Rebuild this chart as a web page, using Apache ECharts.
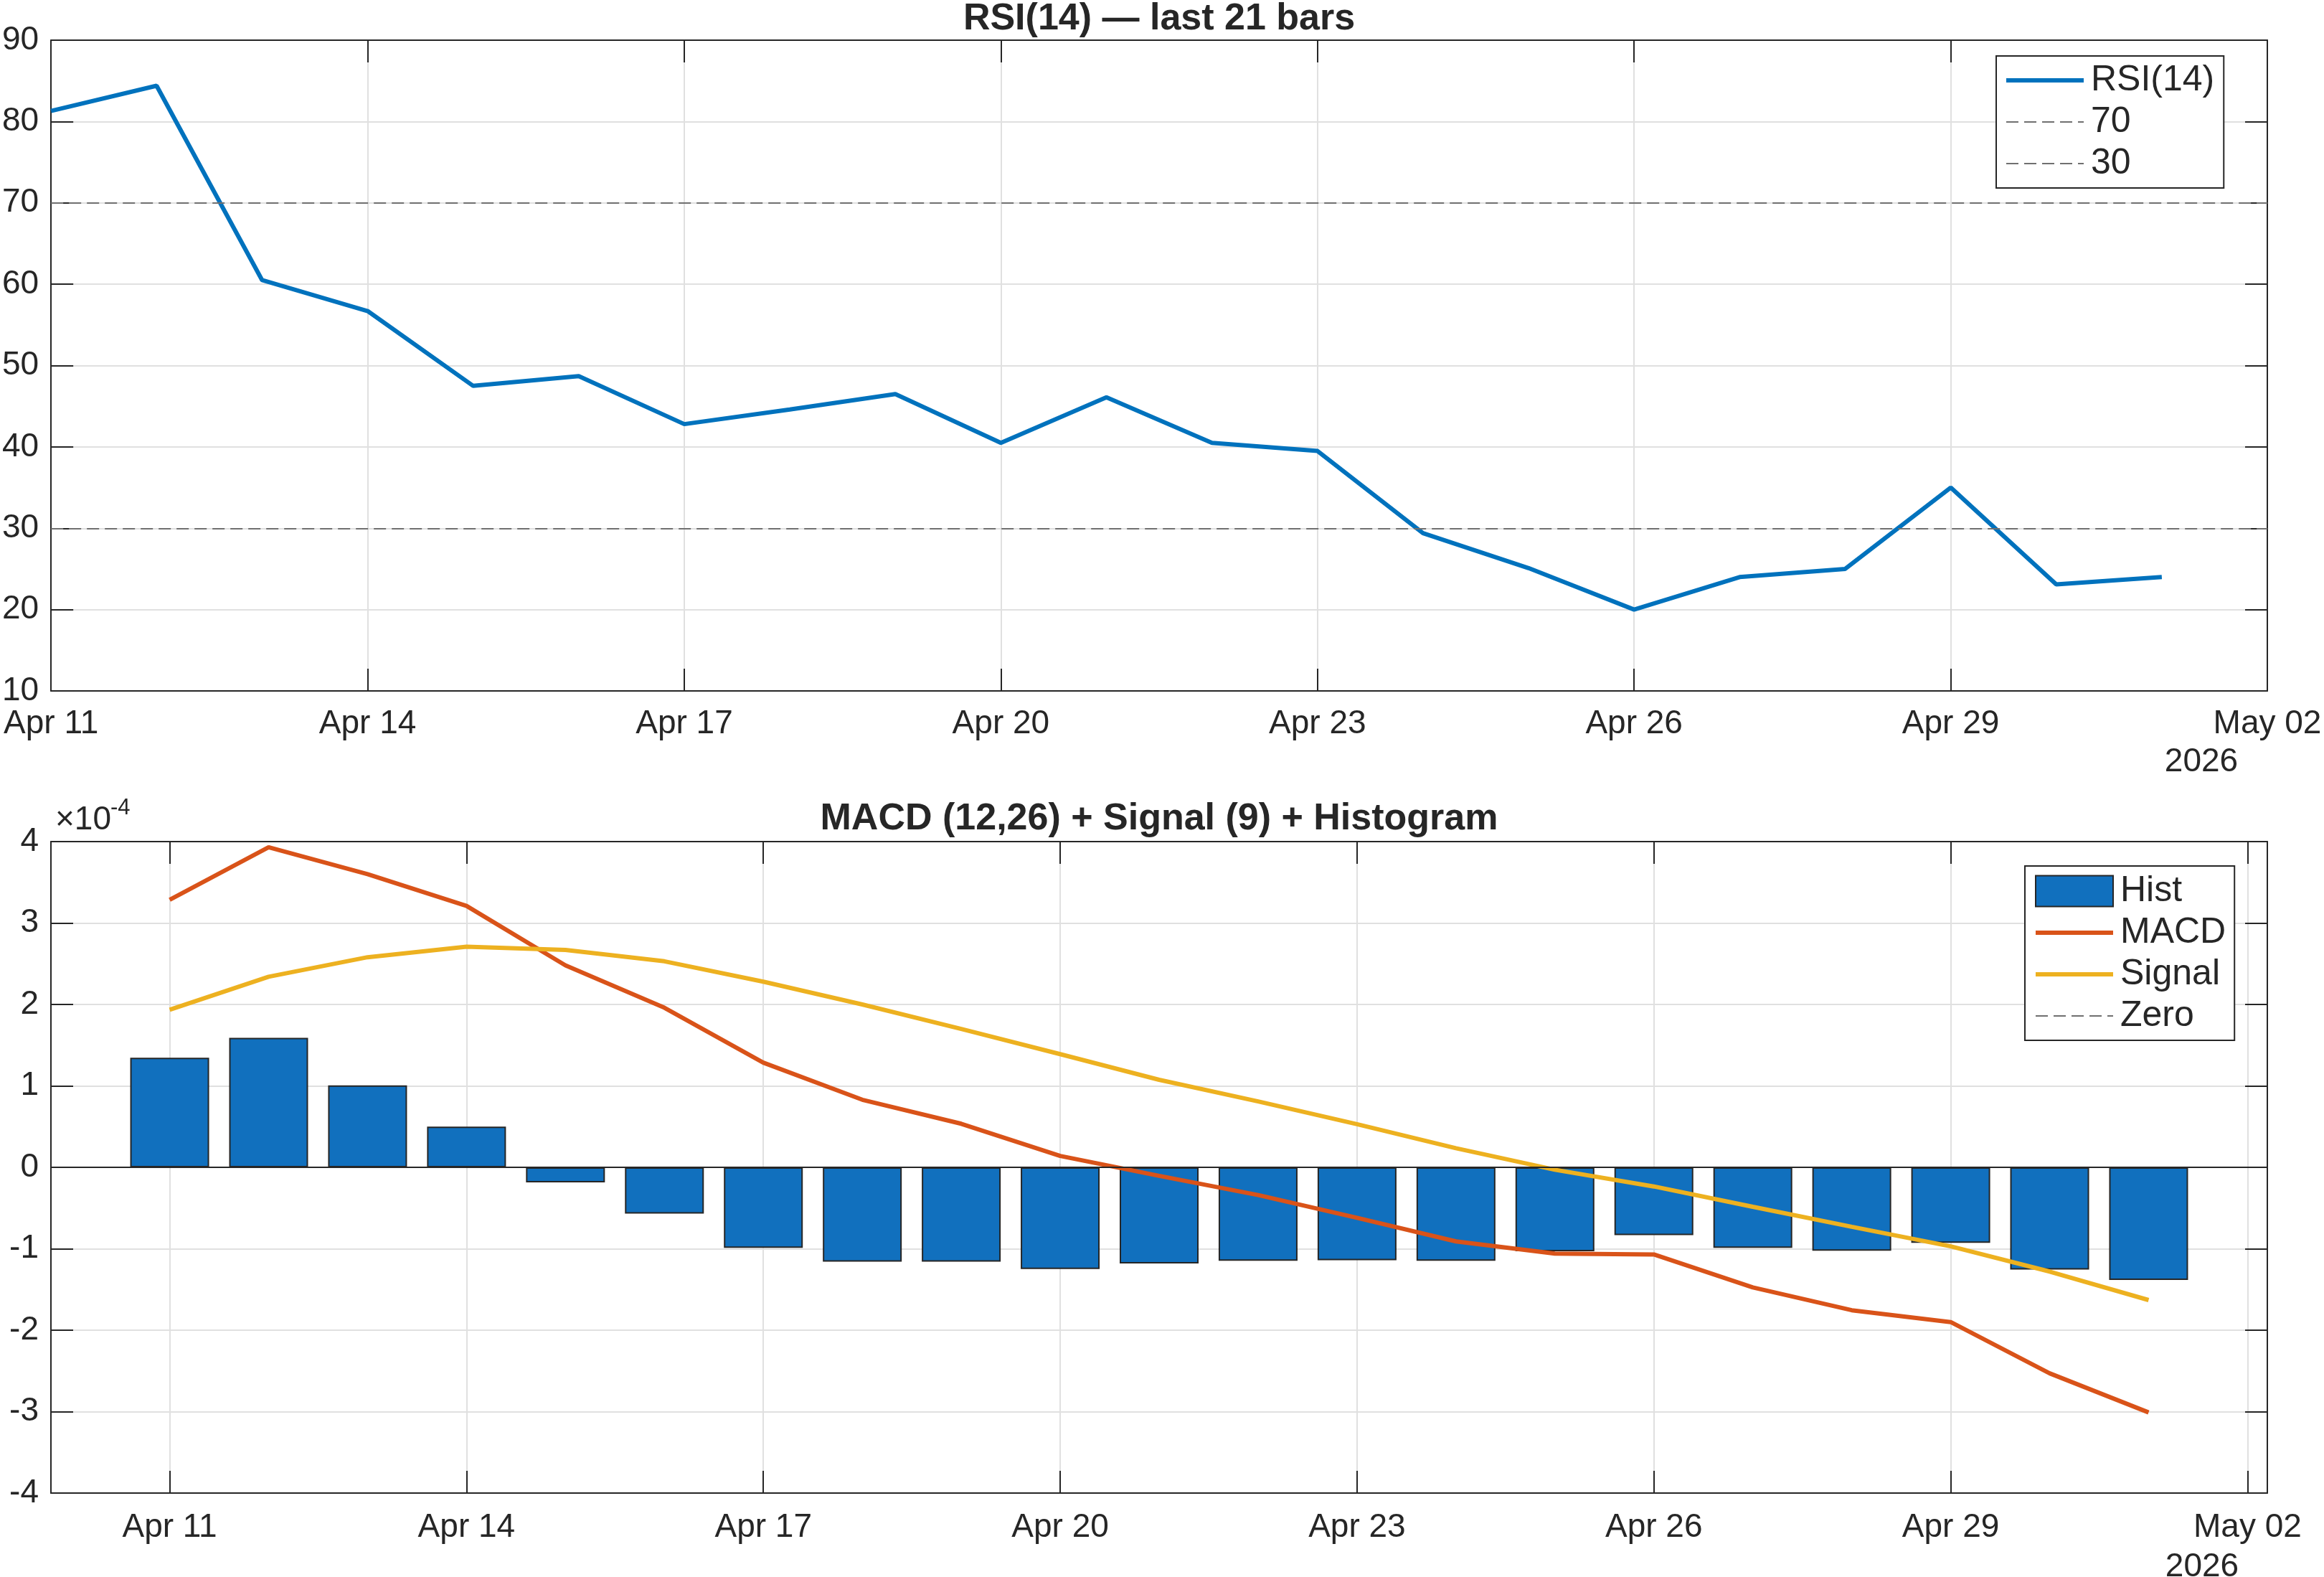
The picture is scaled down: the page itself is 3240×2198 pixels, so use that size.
<!DOCTYPE html>
<html>
<head>
<meta charset="utf-8">
<script src="https://cdn.jsdelivr.net/npm/echarts@6/dist/echarts.min.js"></script>
<style>
html, body { margin: 0; padding: 0; background: #fff; }
#main { width: 3240px; height: 2198px; }
</style>
</head>
<body>
<div id="main"></div>
<script>
// last 21 daily bars, Apr 11 .. May 01 2026
const dates = ['Apr 11', 'Apr 12', 'Apr 13', 'Apr 14', 'Apr 15', 'Apr 16', 'Apr 17',
	'Apr 18', 'Apr 19', 'Apr 20', 'Apr 21', 'Apr 22', 'Apr 23', 'Apr 24', 'Apr 25',
	'Apr 26', 'Apr 27', 'Apr 28', 'Apr 29', 'Apr 30', 'May 01'];
const rsi = [81.3, 84.4, 60.5, 56.7, 47.5, 48.7, 42.8, 44.6, 46.5, 40.5, 46.1,
	40.5, 39.5, 29.4, 25.1, 20.0, 24.0, 25.0, 35.0, 23.1, 24.0];
const rsiLevels = [70, 30];
// MACD values in units of 1e-4
const hist = [1.345, 1.59, 1.007, 0.50, -0.186, -0.568, -0.99, -1.159, -1.159, -1.249, -1.18,
	-1.148, -1.142, -1.148, -1.03, -0.833, -0.99, -1.024, -0.928, -1.255, -1.384];
const macd = [3.285, 3.93, 3.60, 3.21, 2.48, 1.96, 1.285, 0.83, 0.535, 0.14, -0.105,
	-0.34, -0.62, -0.91, -1.06, -1.07, -1.475, -1.755, -1.90, -2.53, -3.01];
const signal = [1.935, 2.34, 2.58, 2.71, 2.67, 2.53, 2.28, 2.0, 1.70, 1.39, 1.075,
	0.81, 0.53, 0.235, -0.03, -0.235, -0.485, -0.73, -0.97, -1.28, -1.63];
const tickDays = [0, 3, 6, 9, 12, 15, 18, 21];
const tickLabels = ['Apr 11', 'Apr 14', 'Apr 17', 'Apr 20', 'Apr 23', 'Apr 26', 'Apr 29', 'May 02'];
const yearLabel = '2026';

const FONT = '"Liberation Sans", Arial, Helvetica, sans-serif';
const INK = '#262626';
const GRIDC = '#e0e0e0';
const DASH = '#707070';
const LW = 6;

let myChart = echarts.init(document.getElementById('main'));

function pts(arr) {
	return arr.map(function (v, i) { return [i, v]; });
}
function dayLabel(v) {
	let k = tickDays.indexOf(Math.round(v));
	return k >= 0 ? tickLabels[k] : '';
}
// line entries in the legend: hide the default symbol, keep the line
function lineItem(name) {
	return { name: name, itemStyle: { opacity: 0 } };
}

let axisLine = { show: true, onZero: false, lineStyle: { color: INK, width: 2 } };
let axisTick = { show: true, inside: true, length: 31, lineStyle: { color: INK, width: 2 } };
let gridLine = { show: true, lineStyle: { color: GRIDC, width: 2 } };
let tickFont = { fontFamily: FONT, fontSize: 46, color: INK, lineHeight: 46 };
let legendText = { fontFamily: FONT, fontSize: 50, color: INK, lineHeight: 58, padding: [0, 0, 0, 5] };

let option = {
	backgroundColor: '#fff',
	animation: false,
	textStyle: { fontFamily: FONT },
	title: [
		{
			text: 'RSI(14) \u2014 last 21 bars',
			left: 1616, top: 1, textAlign: 'center', padding: 0,
			textStyle: { fontFamily: FONT, fontSize: 52, fontWeight: 'bold', color: INK }
		},
		{
			text: 'MACD (12,26) + Signal (9) + Histogram',
			left: 1616, top: 1116, textAlign: 'center', padding: 0,
			textStyle: { fontFamily: FONT, fontSize: 52, fontWeight: 'bold', color: INK }
		}
	],
	grid: [
		{ left: 71, right: 79, top: 56, bottom: 1235 },
		{ left: 71, right: 79, top: 1173, bottom: 117 }
	],
	xAxis: [
		{
			gridIndex: 0, type: 'value', position: 'bottom', min: 0, max: 21, interval: 3,
			axisLine: axisLine, axisTick: axisTick, splitLine: gridLine,
			axisLabel: Object.assign({ margin: 23, formatter: dayLabel, showMinLabel: true, showMaxLabel: true, hideOverlap: false }, tickFont)
		},
		{
			gridIndex: 0, type: 'value', position: 'top', min: 0, max: 21, interval: 3,
			axisLine: axisLine, axisTick: axisTick, splitLine: { show: false }, axisLabel: { show: false }
		},
		{
			gridIndex: 1, type: 'value', position: 'bottom', min: -1.2, max: 21.2,
			axisLine: axisLine,
			axisTick: Object.assign({ customValues: tickDays }, axisTick),
			splitLine: gridLine,
			axisLabel: Object.assign({ margin: 25, customValues: tickDays, formatter: dayLabel, hideOverlap: false }, tickFont)
		},
		{
			gridIndex: 1, type: 'value', position: 'top', min: -1.2, max: 21.2,
			axisLine: axisLine,
			axisTick: Object.assign({ customValues: tickDays }, axisTick),
			splitLine: { show: false }, axisLabel: { show: false }
		}
	],
	yAxis: [
		{
			gridIndex: 0, type: 'value', position: 'left', min: 10, max: 90, interval: 10,
			axisLine: axisLine, axisTick: axisTick, splitLine: gridLine,
			axisLabel: Object.assign({ margin: 17 }, tickFont)
		},
		{
			gridIndex: 0, type: 'value', position: 'right', min: 10, max: 90, interval: 10,
			axisLine: axisLine, axisTick: axisTick, splitLine: { show: false }, axisLabel: { show: false }
		},
		{
			gridIndex: 1, type: 'value', position: 'left', min: -4, max: 4, interval: 1,
			axisLine: axisLine, axisTick: axisTick, splitLine: gridLine,
			axisLabel: Object.assign({ margin: 17 }, tickFont)
		},
		{
			gridIndex: 1, type: 'value', position: 'right', min: -4, max: 4, interval: 1,
			axisLine: axisLine, axisTick: axisTick, splitLine: { show: false }, axisLabel: { show: false }
		}
	],
	legend: [
		{
			data: [lineItem('RSI(14)'), lineItem('70'), lineItem('30')],
			orient: 'vertical', left: 2783, top: 78,
			padding: [5, 13, 5, 11], itemGap: 0, itemWidth: 108, itemHeight: 43,
			borderColor: INK, borderWidth: 2, backgroundColor: '#fff',
			lineStyle: { width: 'inherit' },
			textStyle: legendText
		},
		{
			data: [
				{ name: 'Hist', icon: 'rect', itemStyle: { color: '#1170BE', borderColor: INK, borderWidth: 2 } },
				lineItem('MACD'), lineItem('Signal'), lineItem('Zero')
			],
			orient: 'vertical', left: 2823, top: 1207,
			padding: [6, 12, 5, 12], itemGap: 0, itemWidth: 108, itemHeight: 43,
			borderColor: INK, borderWidth: 2, backgroundColor: '#fff',
			lineStyle: { width: 'inherit' },
			textStyle: legendText
		}
	],
	graphic: [
		{ type: 'text', left: 77, top: 1120, style: { text: '\u00d710', font: '46px ' + FONT, fill: INK } },
		{ type: 'text', left: 154, top: 1111, style: { text: '-4', font: '31px ' + FONT, fill: INK } },
		{ type: 'text', x: 3069, y: 1062, style: { text: yearLabel, font: '46px ' + FONT, fill: INK, align: 'center', verticalAlign: 'middle' } },
		{ type: 'text', x: 3070, y: 2184, style: { text: yearLabel, font: '46px ' + FONT, fill: INK, align: 'center', verticalAlign: 'middle' } }
	],
	series: [
		{
			name: 'RSI(14)', type: 'line', xAxisIndex: 0, yAxisIndex: 0,
			data: pts(rsi), symbol: 'none', z: 3,
			lineStyle: { color: '#0072BD', width: LW }, itemStyle: { color: '#0072BD' }
		},
		{
			name: '70', type: 'line', xAxisIndex: 0, yAxisIndex: 0, data: [], symbol: 'none',
			lineStyle: { color: DASH, width: 2, type: [17, 8] }, itemStyle: { color: DASH },
			markLine: {
				silent: true, symbol: 'none', label: { show: false },
				lineStyle: { color: DASH, width: 2, type: [17, 8] },
				data: [{ yAxis: rsiLevels[0] }]
			}
		},
		{
			name: '30', type: 'line', xAxisIndex: 0, yAxisIndex: 0, data: [], symbol: 'none',
			lineStyle: { color: DASH, width: 2, type: [17, 8] }, itemStyle: { color: DASH },
			markLine: {
				silent: true, symbol: 'none', label: { show: false },
				lineStyle: { color: DASH, width: 2, type: [17, 8] },
				data: [{ yAxis: rsiLevels[1] }]
			}
		},
		{
			name: 'Hist', type: 'bar', xAxisIndex: 2, yAxisIndex: 2,
			data: pts(hist), barWidth: 110,
			itemStyle: { color: '#1170BE', borderColor: INK, borderWidth: 2 }
		},
		{
			name: 'MACD', type: 'line', xAxisIndex: 2, yAxisIndex: 2,
			data: pts(macd), symbol: 'none', z: 3,
			lineStyle: { color: '#D95319', width: LW }, itemStyle: { color: '#D95319' }
		},
		{
			name: 'Signal', type: 'line', xAxisIndex: 2, yAxisIndex: 2,
			data: pts(signal), symbol: 'none', z: 3,
			lineStyle: { color: '#EDB120', width: LW }, itemStyle: { color: '#EDB120' }
		},
		{
			// legend shows the dashed style; the bar baseline drawn over it is solid
			name: 'Zero', type: 'line', xAxisIndex: 2, yAxisIndex: 2, data: [], symbol: 'none', z: 2,
			lineStyle: { color: DASH, width: 2, type: [17, 8] }, itemStyle: { color: DASH },
			markLine: {
				silent: true, symbol: 'none', label: { show: false },
				lineStyle: { color: INK, width: 2, type: 'solid' },
				data: [{ yAxis: 0 }]
			}
		}
	]
};
myChart.setOption(option);
</script>
</body>
</html>
